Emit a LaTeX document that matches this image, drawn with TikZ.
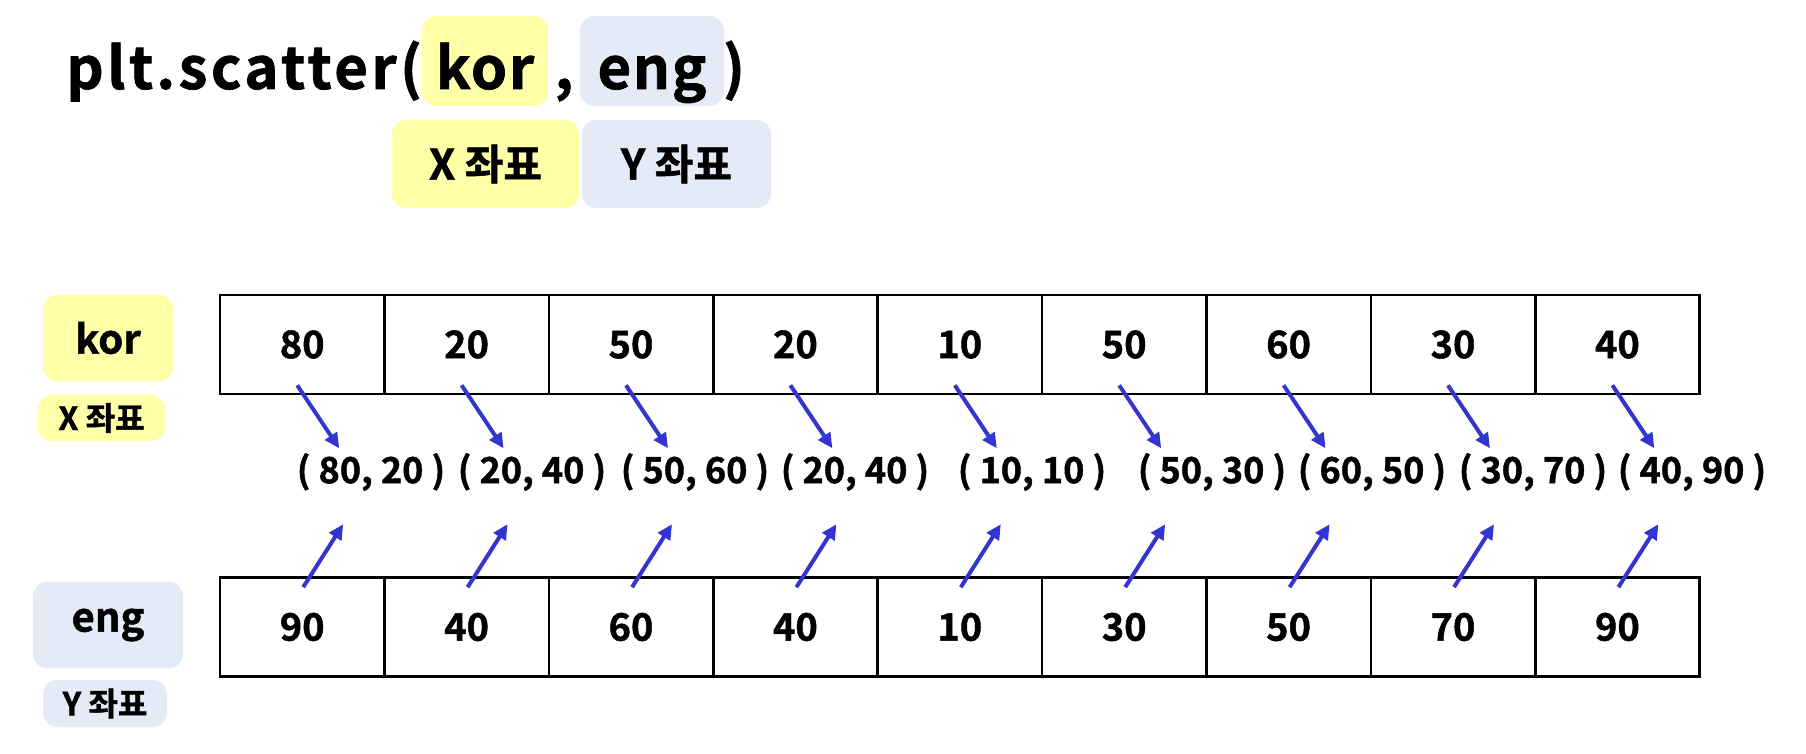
\documentclass[tikz,border=0pt]{standalone}
\usepackage{fontspec}
\setmainfont{Noto Sans CJK KR Bold}[FakeBold=1.2]
\usetikzlibrary{arrows.meta,calc}
\definecolor{ky}{RGB}{255,255,168}
\definecolor{eb}{RGB}{228,234,246}
\definecolor{ab}{RGB}{52,52,208}
\begin{document}
\begin{tikzpicture}[x=0.5pt,y=-0.5pt,
  yb/.style={fill=ky, rounded corners=7pt, inner sep=0pt},
  bb/.style={fill=eb, rounded corners=7pt, inner sep=0pt},
  tit/.style={font=\fontsize{29}{30}\selectfont, inner sep=0pt},
  lab/.style={font=\fontsize{21}{22}\selectfont},
  slab/.style={font=\fontsize{16}{18}\selectfont},
  cell/.style={draw=black, line width=1.3pt, minimum width=82.2pt, minimum height=49.5pt, inner sep=0pt, font=\fontsize{19}{20}\selectfont},
  pair/.style={font=\fontsize{18}{20}\selectfont, inner sep=0pt},
  arr/.style={draw=ab, line width=2pt, -{Triangle[length=7.5pt,width=7pt,fill=ab]}},
]
\useasboundingbox (0,0) rectangle (1806,754);
% title
\node[yb, minimum width=63pt, minimum height=45pt] (kbox) at (485,61) {};
\node[bb, minimum width=72pt, minimum height=45pt] (ebox) at (652,61) {};
\node[tit, anchor=base west] (plt) at (66,89) {\addfontfeature{LetterSpace=6}plt.scatter};
\node[tit, anchor=base] (top) at (411,89) {(};
\node[tit, anchor=base] (tkor) at (485,89) {\addfontfeature{LetterSpace=3}kor};
\node[tit, anchor=base] (tcom) at (564,89) {,};
\node[tit, anchor=base] (teng) at (652,89) {\addfontfeature{LetterSpace=3}eng};
\node[tit, anchor=base] (tcl) at (734,89) {)};
\node[yb, lab, minimum width=93.5pt, minimum height=44pt] (xz) at (485.5,164) {X 좌표};
\node[bb, lab, minimum width=94.5pt, minimum height=44pt] (yz) at (676.5,164) {Y 좌표};
% left labels
\node[yb, lab, font=\fontsize{20}{22}\selectfont, minimum width=65pt, minimum height=43pt] (korlab) at (108,338) {kor};
\node[yb, slab, minimum width=63.5pt, minimum height=23pt] (xlab) at (101.5,418) {X 좌표};
\node[bb, lab, font=\fontsize{20}{22}\selectfont, minimum width=75pt, minimum height=43pt] (englab) at (108,625) {eng};
\node[bb, slab, minimum width=62pt, minimum height=23.5pt] (ylab) at (105,703.5) {Y 좌표};
% tables
\foreach \i/\k/\e [count=\n from 0] in {1/80/90,2/20/40,3/50/60,4/20/40,5/10/10,6/50/30,7/60/50,8/30/70,9/40/90}{
  \node[cell] (t\i) at ({302.2+164.4*\n},344.5) {\k};
  \node[cell] (b\i) at ({302.2+164.4*\n},627) {\e};
}
% pairs
\foreach \i/\x/\t in {1/371/{( 80, 20 )},2/532/{( 20, 40 )},3/695/{( 50, 60 )},4/855/{( 20, 40 )},5/1032/{( 10, 10 )},6/1212/{( 50, 30 )},7/1372/{( 60, 50 )},8/1533/{( 30, 70 )},9/1692/{( 40, 90 )}}{
  \node[pair] (p\i) at (\x,472) {\t};
}
% arrows
\foreach \i in {1,...,9}{
  \draw[arr] ($(t\i.south)+(-5,-10)$) -- ($(t\i.south)+(37,53)$);
  \draw[arr] ($(b\i.north)+(1,11)$) -- ($(b\i.north)+(41,-52)$);
}
\end{tikzpicture}
\end{document}
